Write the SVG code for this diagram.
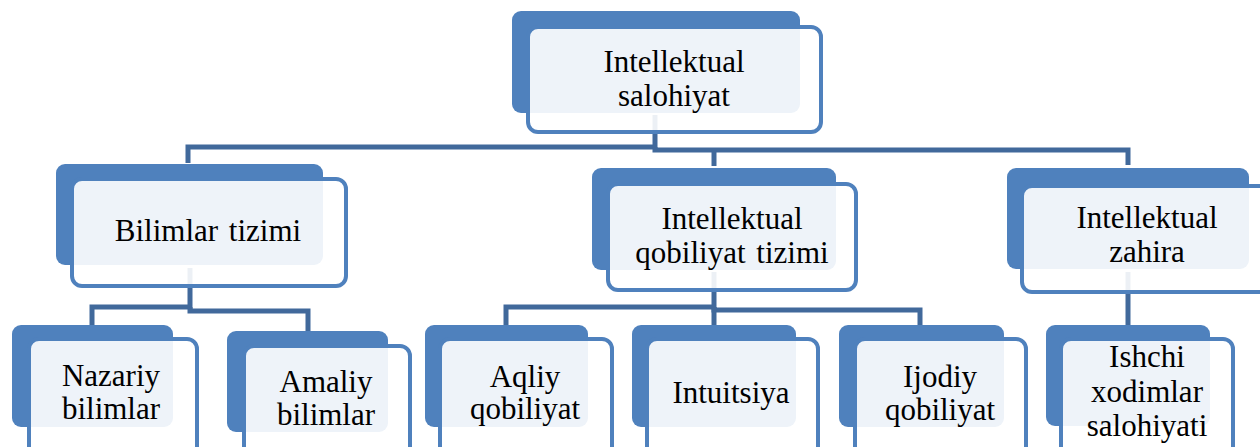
<svg xmlns="http://www.w3.org/2000/svg" width="1260" height="447" viewBox="0 0 1260 447">
<style>
.back{fill:#4F81BD;}
.front{fill:#ffffff;fill-opacity:0.9;stroke:#4F81BD;stroke-width:4;}
.conn{fill:none;stroke:#41699B;stroke-width:5;stroke-linejoin:miter;}
text{font-family:"Liberation Serif","Times New Roman",serif;font-size:31px;fill:#000;text-anchor:middle;}
</style>
<rect width="1260" height="447" fill="#ffffff"/>
<g id="connectors">
<path class="conn" d="M655,115 V147 H188 V163"/>
<path class="conn" d="M655,147 V150 H1128 V165"/>
<path class="conn" d="M714,150 V166"/>
<path class="conn" d="M190,268 V307 H92 V327"/>
<path class="conn" d="M190,307 V311 H308 V333"/>
<path class="conn" d="M714,272 V307 H506 V327"/>
<path class="conn" d="M714,307 V310 H920 V327"/>
<path class="conn" d="M714,307 V327"/>
<path class="conn" d="M1128,272 V327"/>
</g>
<g id="n-top">
<rect class="back" x="512" y="11" width="288" height="102" rx="9"/>
<rect class="front" x="528" y="27" width="293" height="105" rx="10"/>
<text x="674" y="72">Intellektual</text>
<text x="674" y="106">salohiyat</text>
</g>
<g id="n-bilimlar">
<rect class="back" x="56" y="164" width="267" height="101" rx="9"/>
<rect class="front" x="72" y="179" width="274" height="107" rx="10"/>
<text x="208" y="241" word-spacing="3">Bilimlar tizimi</text>
</g>
<g id="n-qobiliyat">
<rect class="back" x="592" y="168" width="244" height="102" rx="9"/>
<rect class="front" x="608" y="184" width="248" height="106" rx="10"/>
<text x="732" y="229">Intellektual</text>
<text x="732" y="263" word-spacing="3">qobiliyat tizimi</text>
</g>
<g id="n-zahira">
<rect class="back" x="1007" y="168" width="242" height="101" rx="9"/>
<rect class="front" x="1022" y="186" width="260" height="106" rx="10"/>
<text x="1147" y="228">Intellektual</text>
<text x="1147" y="262">zahira</text>
</g>
<g id="n-nazariy">
<rect class="back" x="12" y="325" width="161" height="102" rx="9"/>
<rect class="front" x="29" y="339" width="168" height="120" rx="10"/>
<text x="111" y="386">Nazariy</text>
<text x="111" y="419">bilimlar</text>
</g>
<g id="n-amaliy">
<rect class="back" x="227" y="331" width="161" height="101" rx="9"/>
<rect class="front" x="244" y="346" width="166" height="120" rx="10"/>
<text x="326" y="392">Amaliy</text>
<text x="326" y="425">bilimlar</text>
</g>
<g id="n-aqliy">
<rect class="back" x="425" y="325" width="163" height="102" rx="9"/>
<rect class="front" x="440" y="339" width="172" height="120" rx="10"/>
<text x="525" y="387">Aqliy</text>
<text x="525" y="419">qobiliyat</text>
</g>
<g id="n-intuitsiya">
<rect class="back" x="632" y="325" width="164" height="102" rx="9"/>
<rect class="front" x="647" y="339" width="171" height="120" rx="10"/>
<text x="731" y="403">Intuitsiya</text>
</g>
<g id="n-ijodiy">
<rect class="back" x="839" y="325" width="165" height="102" rx="9"/>
<rect class="front" x="855" y="339" width="171" height="120" rx="10"/>
<text x="940" y="387">Ijodiy</text>
<text x="940" y="420">qobiliyat</text>
</g>
<g id="n-ishchi">
<rect class="back" x="1046" y="325" width="164" height="101" rx="9"/>
<rect class="front" x="1061" y="339" width="172" height="120" rx="10"/>
<text x="1147" y="367">Ishchi</text>
<text x="1147" y="402">xodimlar</text>
<text x="1147" y="436">salohiyati</text>
</g>
</svg>
